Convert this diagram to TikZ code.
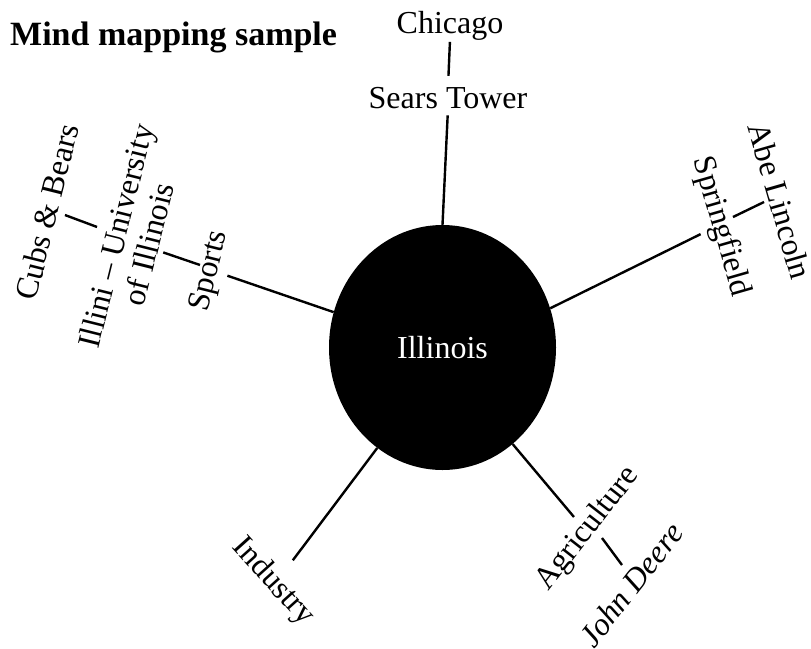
\documentclass[tikz,border=0pt]{standalone}
\usepackage{fontspec}
\setmainfont{Liberation Serif}
\usetikzlibrary{shapes.geometric,calc}
\begin{document}
\begin{tikzpicture}[x=1pt,y=-1pt,
  lbl/.style={inner sep=0pt, outer sep=0pt, font=\fontsize{32}{34}\selectfont},
  conn/.style={line width=2.4pt}]
\useasboundingbox (0,0) rectangle (811,648);
\fill[white] (0,0) rectangle (811,648);
\node[anchor=base west, inner sep=0pt, font=\bfseries\fontsize{34}{40}\selectfont] (title) at (10,45) {Mind mapping sample};
\node[ellipse, fill=black, minimum width=227pt, minimum height=245pt, inner sep=0pt, text=white, font=\fontsize{32}{34}\selectfont] (ill) at (442.5,347.5) {Illinois};
\node[lbl, anchor=base] (chicago) at (450,33) {Chicago};
\node[lbl, anchor=base] (sears) at (448,108) {Sears Tower};
\node[lbl, rotate=76] (sports) at (210,271) {Sports};
\node[lbl, rotate=76, align=center] (illini) at (132,240) {Illini – University\\of Illinois};
\node[lbl, rotate=76] (cubs) at (47,212) {Cubs \& Bears};
\node[lbl, rotate=-74] (spring) at (721,227) {Springfield};
\node[lbl, rotate=-74] (abe) at (780,201) {Abe Lincoln};
\node[lbl, rotate=-48] (indus) at (273,582) {Industry};
\node[lbl, rotate=52] (agri) at (588,529) {Agriculture};
\node[lbl, rotate=52, font=\itshape\fontsize{32}{34}\selectfont] (john) at (631,585) {John Deere};
% main branches
\draw[conn, shorten <=7pt] (sears.south) -- (ill.north);
\draw[conn, shorten >=4pt] (ill.162.5) -- (sports.south);
\draw[conn, shorten >=7pt] (ill.20.6) -- (spring.south);
\draw[conn, shorten >=15pt] (ill.237.9) -- (indus.north);
\draw[conn, shorten >=4pt] (ill.306.7) -- (agri.north);
% sub-branches
\draw[conn, shorten <=2pt, shorten >=11pt] (chicago.south) -- (sears.north);
\draw[conn] ($(illini.center)!33.6pt!(sports.center)$) -- ($(sports.center)!11.7pt!-9.3:(illini.center)$);
\draw[conn] ($(cubs.center)!18.2pt!8.7:(illini.center)$) -- ($(illini.center)!37.3pt!-2.2:(cubs.center)$);
\draw[conn] ($(spring.center)!15.6pt!16:(abe.center)$) -- ($(abe.center)!16pt!-20.2:(spring.center)$);
\draw[conn] ($(agri.center)!16.6pt!19.8:(john.center)$) -- ($(john.center)!21.9pt!-13.3:(agri.center)$);
\end{tikzpicture}
\end{document}
